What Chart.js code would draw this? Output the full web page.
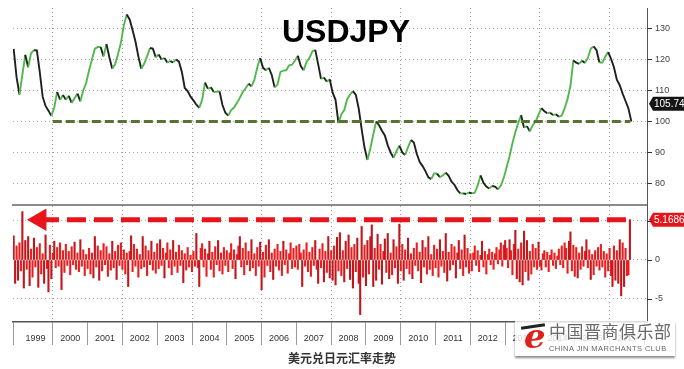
<!DOCTYPE html>
<html>
<head>
<meta charset="utf-8">
<script src="https://cdn.jsdelivr.net/npm/chart.js@4.4.1/dist/chart.umd.min.js"></script>
<style>
  body { margin: 0; width: 684px; height: 369px; background: #fff; position: relative; overflow: hidden; }
  canvas { position: absolute; left: 0; }
  #top { top: 0; }
  #bottom { top: 206px; }
  #title { position: absolute; left: 282px; top: 15px; font: bold 32px/32px "Liberation Sans", Arial, sans-serif; color: #000; }
  #caption { position: absolute; left: 288px; top: 350px; font: bold 12px/16px "Noto Sans CJK SC", sans-serif; color: #333; }
  #mark { position: absolute; left: 515px; top: 321px; width: 160px; height: 35px; background: rgba(255,255,255,0.8); box-shadow: 0 2px 2px rgba(0,0,0,0.45); }
  #logo { position: absolute; left: 9px; top: -5px; font: italic bold 34px/40px "DejaVu Serif", serif; color: #e0201b; }
  #brush { position: absolute; left: 6px; top: 4px; width: 24px; height: 3px; background: #222; transform: rotate(-8deg); }
  #cn { position: absolute; left: 34px; top: 0px; font: 17px/19px "Noto Sans CJK SC", sans-serif; color: #6a6a6a; letter-spacing: 0.5px; white-space: nowrap; }
  #en { position: absolute; left: 34px; top: 23px; font: 7.5px/9px "Liberation Sans", Arial, sans-serif; color: #666; letter-spacing: 0.4px; white-space: nowrap; }
</style>
</head>
<body>
<canvas id="top" width="684" height="207"></canvas>
<canvas id="bottom" width="684" height="144"></canvas>
<div id="title">USDJPY</div>
<div id="caption">美元兑日元汇率走势</div>
<div id="mark"><div id="brush"></div><span id="logo">e</span><div id="cn">中国晋商俱乐部</div><div id="en">CHINA JIN MARCHANTS CLUB</div></div>
<script>
// x axis in decimal years
var xMin = 1998.856, xMax = 2017.075;

// USDJPY, monthly from Nov 1998
var priceStart = 1998.875;
var usdjpy = [
    123.4, 114.3, 108.7, 115, 121.5, 117.5, 122, 123, 122.9, 116, 108, 105, 103.5, 101.8,
    104.5, 109.5, 107, 108.5, 107, 108.3, 106, 107.5, 109, 106.5, 110, 112.4,
    116.5, 120, 123.5, 124, 124, 121, 125, 120.7, 117, 118.5, 121.8, 125.5,
    131, 134.5, 132.9, 129.5, 125.8, 121, 117, 118.6, 121, 123.7, 123.5, 120.7,
    121.6, 120, 120.5, 119, 119.5, 119.1, 120, 119.3, 116, 110.8, 109.8, 108,
    106.8, 105.4, 104.4, 107, 112.5, 110.5, 111, 109.5, 109.6, 109.7, 105.3, 102.8,
    101.9, 103.7, 104.5, 106, 107.6, 109.5, 110.7, 112.2, 111.3, 113.4, 117.4, 120.5,
    117.3, 116.5, 117.3, 115, 111, 111.9, 116, 116.4, 116.5, 118.1, 118.3, 119.6,
    121.2, 117.9, 116.5, 119.2, 120.5, 122.6, 123.1, 118.5, 113.7, 114.2, 112.8, 113.6,
    109.3, 107, 99.5, 102.3, 103.7, 107.2, 108.7, 109.8, 108.6, 104.1, 97.5, 91.5,
    87.6, 91.3, 95.8, 100, 98.8, 97, 95.5, 92.3, 90, 88.3, 90.4, 92.2,
    90, 89.2, 91.7, 94, 93.2, 89.6, 87, 85.6, 84, 82, 81.4, 83.2,
    83.2, 82, 82.6, 83.5, 82.5, 80.6, 79.6, 77.9, 76.8, 76.8, 76.6, 77.1,
    76.8, 77, 79.3, 82.6, 80.2, 79, 78.4, 79.2, 79, 78.1, 79.3, 81.8,
    85.2, 88.8, 93, 96.5, 99.5, 102, 98, 98.5, 96.8, 98.8, 100, 102.2,
    104.3, 103.3, 102.7, 102.8, 102.1, 102.3, 101.5, 101.9, 104.2, 107.2, 111.5, 119.7,
    119, 118.6, 119.6, 118.9, 120.5, 123.5, 124.2, 123, 119, 119, 120.9, 122.4,
    120.2, 117.5, 113.5, 111.7, 109, 106.6, 104.2, 100
];
var lastPrice = 105.74;
var floorLevel = 100;
var floorSpan = [2000.0, 2016.59];

// change, half-monthly from Nov 1998
var chgStart = 1998.875;
var changes = [
    3.1, -3.0, 1.8, -2.6,
    2.2, -1.4, 6.2, -3.6, 2.5, -1.2, 3.0, -3.3, 1.4, -2.2, 2.8, -0.9, 1.6, -3.5, 2.1, -1.8, 0.8, -3.0, 3.2, -1.1, -4.1, 1.9, -2.4, 0.9,
    2.4, -1.0, 1.6, -0.8, 2.2, -3.8, 1.2, -1.6, 2.0, -0.7, 1.1, -1.9, 1.7, -0.6, 2.3, -1.2, 0.9, -1.5, 2.6, -0.8, 1.3, -2.0, 0.7, -1.1,
    1.5, -1.8, 0.9, -2.3, 3.0, -0.9, 1.8, -2.6, 1.2, -1.4, 2.1, -0.6, 1.7, -2.1, 0.8, -1.3, 2.4, -1.0, 1.1, -2.5, 1.9, -0.7, 2.2, -1.2,
    1.3, -1.8, 0.9, -3.4, 1.1, 3.1, -1.5, 2.0, -0.8, 1.4, -2.2, 0.7, -1.1, 3.0, -0.9, 1.8, -2.0, 1.2, -0.6, 2.4, -1.3, 1.0, -1.7, 2.1,
    -1.1, 2.6, -0.7, 1.5, -2.3, 0.9, 2.2, -1.0, 1.3, -1.9, 2.5, -0.8, 1.0, -1.6, 1.9, -0.7, 1.2, -2.9, 0.8, -1.3, 1.6, -0.9, 0.6, -1.5,
    1.1, -0.8, 3.4, -1.0, -3.4, 1.5, 2.1, -0.9, 1.4, -2.1, 0.8, 2.4, -1.2, 1.0, -2.2, 1.7, -0.6, 2.5, -1.4, 0.9, -1.8, 1.6, -0.7, 1.2,
    -1.5, 0.9, 2.1, -1.1, 1.3, -2.4, 0.7, 1.8, 3.0, -0.9, 1.5, -1.9, 2.2, -0.6, 1.1, -1.4, 2.6, -1.0, 0.8, -2.0, 1.6, -0.8, 2.3, -3.8,
    1.0, -2.2, 1.9, -0.7, 2.6, -1.5, 0.9, -2.5, 1.4, -0.8, 2.0, -1.3, 1.1, -2.0, 2.4, -0.6, 1.3, -1.7, 0.8, 2.2, -1.1, 1.5, -0.9, 1.8,
    -1.2, 2.0, 0.9, -3.4, 1.3, -0.8, 2.2, -1.5, 1.0, -2.1, 1.6, -0.7, 2.5, -1.2, -3.0, 1.4, -1.0, 2.1, -2.8, 1.1, -1.6, 3.0, -2.3, 1.2,
    -2.6, 1.8, -3.2, 2.9, -1.4, 3.5, -2.0, 1.2, -2.8, 2.4, -1.1, 3.2, -2.5, 1.6, -3.6, 2.0, -1.5, 2.8, -3.0, -7.0, 4.3, -2.2, 1.9, -3.3,
    2.5, -1.8, 3.0, 4.5, -3.4, 1.5, -2.6, 3.3, -1.2, 2.0, -3.1, 1.1, 2.7, -1.6, 3.4, -2.4, 0.9, -1.9, 2.6, -1.0, 1.7, -3.0, 4.6, -1.4,
    2.0, -2.6, 1.3, -1.1, 2.8, -1.8, 0.8, -2.4, 1.5, -0.7, 2.2, -1.4, 1.0, -2.9, 2.5, -0.9, 1.6, -1.8, 3.0, -1.2, 0.7, -2.0, 1.9, -1.0,
    1.4, -2.2, 2.6, -0.8, 1.1, -1.6, 3.4, -2.7, 1.0, -1.3, 2.0, -0.6, 1.7, -2.3, 0.9, 2.5, -1.1, 1.3, -2.0, 3.2, -0.9, 1.5, -1.7, 0.8,
    -1.4, 0.9, 1.8, -0.7, 1.2, -1.5, 0.6, 2.4, -0.9, 1.1, -1.8, 0.7, 1.4, -0.6, 1.0, -1.2, 0.8, 1.6, -0.5, 1.3, 2.2, -0.8, 1.9, 2.5,
    1.5, -1.0, 2.6, 1.2, -1.9, 2.0, 3.8, -2.4, 1.4, -2.8, 2.2, -3.2, 3.7, -1.5, 2.5, -2.6, 1.1, -1.8, 2.0, -0.9, 1.5, -1.2, 2.3, -0.8,
    -1.3, 0.8, 1.2, -0.9, 1.0, -1.5, 0.6, 1.3, -0.7, 0.9, -1.1, 0.5, 1.4, -0.6, 1.8, -1.0, 2.2, 1.5, -1.7, 2.4, 3.6, -1.4, 1.9, -2.1,
    1.6, -2.3, 0.9, -1.2, 1.7, -0.8, 1.1, 2.6, -1.0, 1.3, -2.5, 0.7, -1.9, 1.2, -0.8, 1.6, -1.3, 2.0, -0.9, 1.1, -2.2, 0.8, -1.4, 1.5,
    -2.0, -3.4, 1.8, -2.6, 1.2, -3.0, 2.6, -4.6, 2.2, -3.4, 1.5, -2.0, -1.9, 5.1686
];
var lastChg = 5.1686;
var arrowSpan = [1999.63, 2016.59];

var priceTicks = [80, 90, 100, 110, 120, 130];
var chgTicks = [-5, 0, 5];
var gridYears = [2000, 2002, 2004, 2006, 2008, 2010, 2012, 2014, 2016];
var yearLabels = ['1999', '2000', '2001', '2002', '2003', '2004', '2005', '2006', '2007',
    '2008', '2009', '2010', '2011', '2012', '2013', '2014', '2015', '2016'];

var upColor = '#52b84c';
var downColor = '#1f221c';
var font = '"Liberation Sans", Arial, sans-serif';

var pricePts = usdjpy.map((v, i) => ({ x: priceStart + i / 12, y: v }));
var chgPts = changes.map((v, i) => ({ x: chgStart + i / 24, y: v }));

// keep the plot area exactly where the padding puts it
function noPad(s) {
    s.paddingTop = 0; s.paddingBottom = 0; s.paddingLeft = 0; s.paddingRight = 0;
}

// boxed last value on the right axis
var valueTag = {
    id: 'valueTag',
    afterDraw(chart, args, opts) {
        var ctx = chart.ctx;
        var y = chart.scales.y.getPixelForValue(opts.value);
        var x0 = chart.chartArea.right + 2;
        ctx.save();
        ctx.fillStyle = opts.color;
        ctx.beginPath();
        ctx.moveTo(x0, y);
        ctx.lineTo(x0 + 4, y - 7);
        ctx.lineTo(684, y - 7);
        ctx.lineTo(684, y + 7);
        ctx.lineTo(x0 + 4, y + 7);
        ctx.closePath();
        ctx.fill();
        ctx.fillStyle = '#fff';
        ctx.font = '10px ' + font;
        ctx.textBaseline = 'middle';
        ctx.fillText(opts.text, x0 + 5, y + 0.5);
        ctx.restore();
    }
};

// short solid tick marks on the right axis
var tickMarks = {
    id: 'tickMarks',
    afterDraw(chart) {
        var s = chart.scales.y, ctx = chart.ctx;
        ctx.save();
        ctx.strokeStyle = '#333';
        ctx.lineWidth = 1;
        ctx.beginPath();
        s.ticks.forEach(t => {
            var y = Math.round(s.getPixelForValue(t.value)) + 0.5;
            ctx.moveTo(s.left, y);
            ctx.lineTo(s.left + 5, y);
        });
        ctx.stroke();
        ctx.restore();
    }
};

new Chart(document.getElementById('top'), {
    type: 'line',
    data: {
        datasets: [{
            data: [{ x: floorSpan[0], y: floorLevel }, { x: floorSpan[1], y: floorLevel }],
            borderColor: '#587330',
            borderWidth: 3,
            borderDash: [9, 4],
            pointRadius: 0
        }, {
            data: pricePts,
            borderColor: downColor,
            borderWidth: 1.9,
            pointRadius: 0,
            segment: {
                borderColor: c => c.p1.parsed.y >= c.p0.parsed.y ? upColor : downColor
            }
        }]
    },
    options: {
        responsive: false,
        animation: false,
        devicePixelRatio: 1,
        layout: { autoPadding: false, padding: { left: 13, top: 8, right: 0, bottom: 2 } },
        plugins: {
            legend: { display: false },
            tooltip: { enabled: false },
            valueTag: { value: lastPrice, text: '105.74', color: '#151515' }
        },
        scales: {
            x: {
                type: 'linear', min: xMin, max: xMax,
                afterBuildTicks: s => { s.ticks = gridYears.map(v => ({ value: v })); },
                afterFit: s => { s.height = 0; noPad(s); },
                ticks: { display: false },
                grid: { color: '#a0a0a0', drawTicks: false },
                border: { display: true, color: '#8a8a8a', width: 2, dash: [1, 3] }
            },
            y: {
                position: 'right', min: 73.06, max: 136.6,
                afterBuildTicks: s => { s.ticks = priceTicks.map(v => ({ value: v })); },
                afterFit: s => { s.width = 37; noPad(s); },
                ticks: { color: '#444', font: { size: 9, family: font }, padding: 8 },
                grid: { color: '#a6a6a6', drawTicks: false },
                border: { color: '#555', width: 1, dash: [1, 3] }
            }
        }
    },
    plugins: [valueTag, tickMarks]
});

new Chart(document.getElementById('bottom'), {
    type: 'bar',
    data: {
        datasets: [{
            type: 'line',
            data: [{ x: arrowSpan[0], y: lastChg }, { x: arrowSpan[1], y: lastChg }],
            borderColor: '#e8141b',
            borderWidth: 5,
            borderDash: [19, 8],
            pointStyle: 'triangle',
            pointRotation: -90,
            pointRadius: c => c.dataIndex === 0 ? 13 : 0,
            pointBackgroundColor: '#e8141b',
            pointBorderWidth: 0
        }, {
            type: 'bar',
            data: chgPts,
            backgroundColor: c => Math.abs(c.raw.y) > 2.2 ? '#c0171c' : '#ea1e1e',
            barPercentage: 1,
            categoryPercentage: 1
        }]
    },
    options: {
        responsive: false,
        animation: false,
        devicePixelRatio: 1,
        layout: { autoPadding: false, padding: { left: 13, top: 0, right: 0, bottom: 0 } },
        plugins: {
            legend: { display: false },
            tooltip: { enabled: false },
            valueTag: { value: lastChg, text: '5.1686', color: '#e3161c' }
        },
        scales: {
            x: {
                type: 'linear', min: xMin, max: xMax, offset: false,
                afterBuildTicks: s => {
                    var t = [{ value: xMin }];
                    yearLabels.forEach(y => {
                        t.push({ value: +y + 0.5 });
                        t.push({ value: +y + 1 });
                    });
                    s.ticks = t;
                },
                afterFit: s => { s.height = 28; noPad(s); },
                ticks: {
                    autoSkip: false, maxRotation: 0, padding: -12,
                    color: '#333', font: { size: 9, family: font },
                    callback: v => (v % 1 === 0.5) ? yearLabels[Math.floor(v) - 1999] : ''
                },
                grid: {
                    offset: false, drawOnChartArea: false, tickLength: 23,
                    color: '#9a9a9a',
                    tickColor: c => (c.tick && c.tick.value % 1 === 0.5) ? 'rgba(0,0,0,0)' : '#9a9a9a'
                },
                border: { color: '#555', width: 1.5 }
            },
            xg: {
                type: 'linear', position: 'bottom', min: xMin, max: xMax, offset: false,
                afterBuildTicks: s => { s.ticks = gridYears.map(v => ({ value: v })); },
                afterFit: s => { s.height = 0; noPad(s); },
                ticks: { display: false },
                grid: { offset: false, color: '#a0a0a0', drawTicks: false },
                border: { display: false, dash: [1, 3] }
            },
            y: {
                position: 'right', min: -7.95, max: 6.92,
                afterBuildTicks: s => { s.ticks = chgTicks.map(v => ({ value: v })); },
                afterFit: s => { s.width = 37; noPad(s); },
                ticks: { color: '#444', font: { size: 9, family: font }, padding: 8 },
                grid: { color: '#a6a6a6', drawTicks: false },
                border: { color: '#555', width: 1, dash: [1, 3] }
            }
        }
    },
    plugins: [valueTag, tickMarks]
});
</script>
</body>
</html>
